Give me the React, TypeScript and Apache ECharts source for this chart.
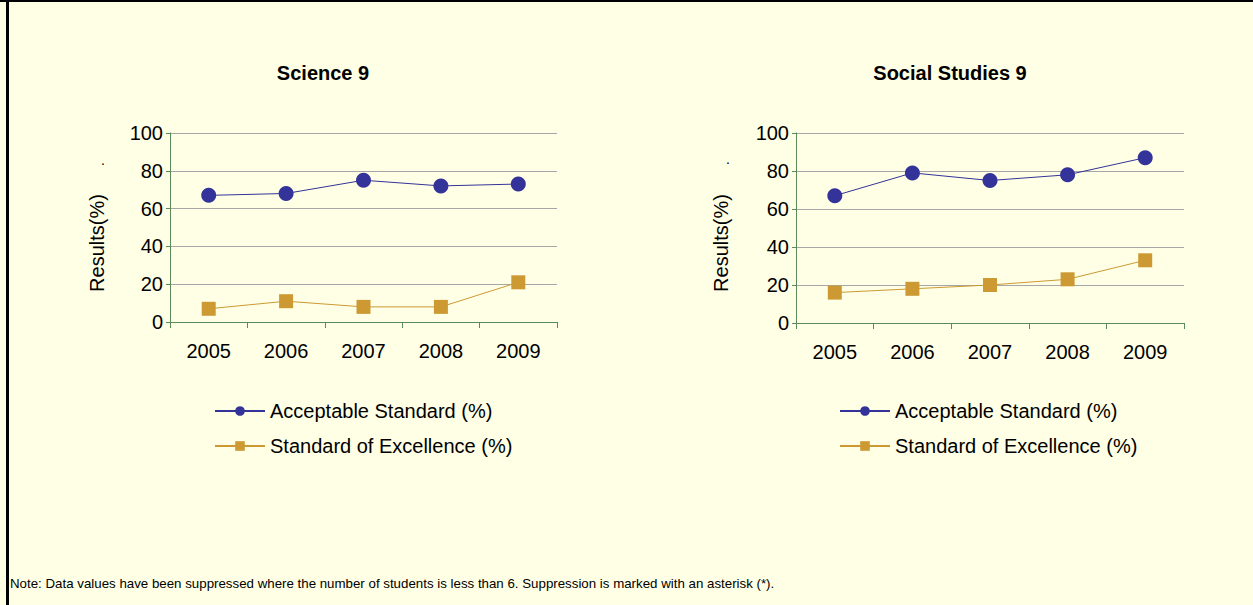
import React, { useEffect, useRef } from "react";
import * as echarts from "echarts";

const years = ["2005", "2006", "2007", "2008", "2009"];
const scienceAcceptable = [67, 68, 75, 72, 73];
const scienceExcellence = [7, 11, 8, 8, 21];
const socialAcceptable = [67, 79, 75, 78, 87];
const socialExcellence = [16, 18, 20, 23, 33];
const titles = ["Science 9", "Social Studies 9"];
const seriesNames = ["Acceptable Standard (%)", "Standard of Excellence (%)"];
const yAxisTitle = "Results(%)";
const note =
  "Note: Data values have been suppressed where the number of students is less than 6. Suppression is marked with an asterisk (*).";

const BLUE = "#333399";
const GOLD = "#CC9933";
const AXIS = "#5B8A5B";
const GRID = "#A6A6A6";
const FONT = "'Liberation Sans', Arial, sans-serif";

export default function App() {
  const ref = useRef<HTMLDivElement>(null);
  useEffect(() => {
    const chart = echarts.init(ref.current!, undefined, { renderer: "svg" });
    const grids = [
      { left: 170, right: 1253 - 557, top: 133, bottom: 605 - 322 },
      { left: 796, right: 1253 - 1184, top: 133, bottom: 605 - 323 },
    ];
    const xAxis = grids.map((_, i) => ({
      type: "category",
      gridIndex: i,
      data: years,
      boundaryGap: true,
      axisLine: { lineStyle: { color: AXIS, width: 1 } },
      axisTick: { show: true, length: 6, lineStyle: { color: AXIS } },
      axisLabel: { color: "#000", fontSize: 20, fontFamily: FONT, margin: 19 },
    }));
    const yAxis = grids.map((_, i) => ({
      type: "value",
      gridIndex: i,
      min: 0,
      max: 100,
      interval: 20,
      axisLine: { show: true, lineStyle: { color: AXIS, width: 1 } },
      axisTick: { show: true, length: 4, lineStyle: { color: AXIS } },
      axisLabel: { color: "#000", fontSize: 20, fontFamily: FONT, margin: 7 },
      splitLine: { show: true, lineStyle: { color: GRID, width: 1 } },
    }));
    const mk = (name: string, data: number[], idx: number, color: string, symbol: string, size: number) => ({
      name,
      type: "line",
      xAxisIndex: idx,
      yAxisIndex: idx,
      data,
      symbol,
      symbolSize: size,
      lineStyle: { color, width: 1 },
      itemStyle: { color },
    });
    const series = [
      mk(seriesNames[0], scienceAcceptable, 0, BLUE, "circle", 15),
      mk(seriesNames[1], scienceExcellence, 0, GOLD, "rect", 14),
      mk(seriesNames[0], socialAcceptable, 1, BLUE, "circle", 15),
      mk(seriesNames[1], socialExcellence, 1, GOLD, "rect", 14),
    ];
    const legendBase = {
      orient: "vertical",
      top: 396,
      itemWidth: 50,
      itemHeight: 12,
      itemGap: 15,
      textStyle: { color: "#000", fontSize: 20, fontFamily: FONT, lineHeight: 20 },
      data: seriesNames,
    };
    chart.setOption({
      animation: false,
      backgroundColor: "#FFFFE6",
      title: [
        { text: titles[0], left: 318, top: 58, textAlign: "center",
          textStyle: { fontSize: 20, fontWeight: "bold", color: "#000", fontFamily: FONT } },
        { text: titles[1], left: 945, top: 58, textAlign: "center",
          textStyle: { fontSize: 20, fontWeight: "bold", color: "#000", fontFamily: FONT } },
      ],
      grid: grids,
      xAxis,
      yAxis,
      series,
      legend: [
        { ...legendBase, left: 209 },
        { ...legendBase, left: 834 },
      ],
      graphic: [
        { type: "rect", shape: { x: 0, y: 0, width: 1253, height: 2 }, style: { fill: "#000" } },
        { type: "rect", shape: { x: 6, y: 0, width: 3, height: 605 }, style: { fill: "#000" } },
        { type: "text", x: 97, y: 243, rotation: Math.PI / 2,
          style: { text: yAxisTitle, fontSize: 20, fontFamily: FONT, fill: "#000", align: "center", verticalAlign: "middle" } },
        { type: "text", x: 721, y: 243, rotation: Math.PI / 2,
          style: { text: yAxisTitle, fontSize: 20, fontFamily: FONT, fill: "#000", align: "center", verticalAlign: "middle" } },
        { type: "text", x: 103, y: 160,
          style: { text: ".", fontSize: 14, fontFamily: FONT, fill: "#000", align: "center", verticalAlign: "middle" } },
        { type: "text", x: 728, y: 159,
          style: { text: ".", fontSize: 14, fontFamily: FONT, fill: "#000", align: "center", verticalAlign: "middle" } },
        { type: "text", x: 10, y: 583,
          style: { text: note, fontSize: 13.3, fontFamily: FONT, fill: "#000", align: "left", verticalAlign: "middle" } },
      ],
    });
    return () => chart.dispose();
  }, []);
  return (
    <div
      ref={ref}
      style={{ position: "fixed", left: 0, top: 0, width: 1253, height: 605 }}
    />
  );
}
